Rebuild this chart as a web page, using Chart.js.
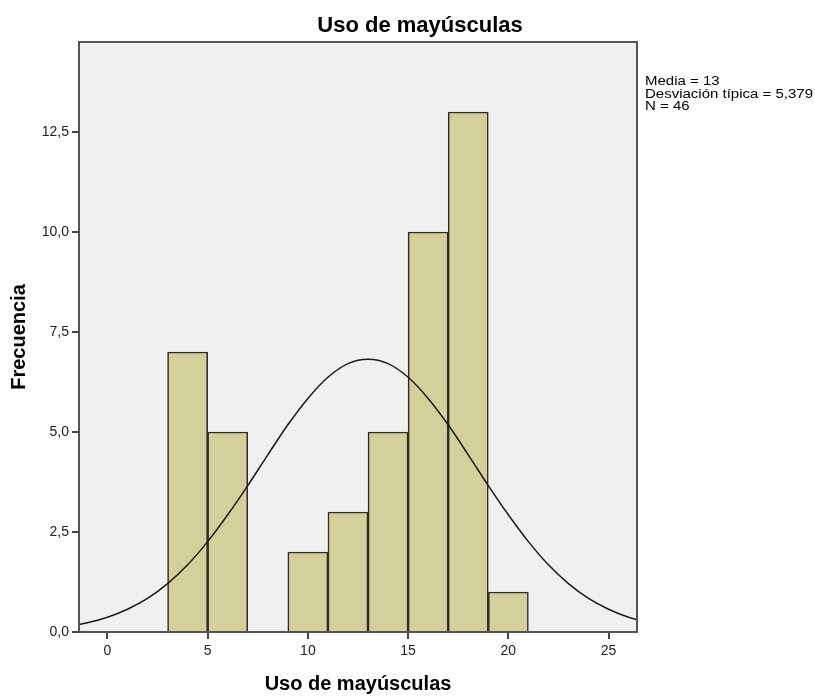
<!DOCTYPE html>
<html>
<head>
<meta charset="utf-8">
<script src="https://cdn.jsdelivr.net/npm/chart.js@4.4.1/dist/chart.umd.min.js"></script>
<style>
  html, body { margin: 0; padding: 0; background: #fff; }
  #wrap { width: 815px; height: 697px; }
</style>
</head>
<body>
<div id="wrap"><canvas id="histChart" width="815" height="697"></canvas></div>
<script>
// ---- datos del histograma (intervalos de ancho 2) ----
const binCenters = [4, 6, 10, 12, 14, 16, 18, 20];
const binCounts  = [7, 5, 2, 3, 5, 10, 13, 1];

// ---- curva normal ----
const curveX = [-2, -1, 0, 1, 2, 3, 4, 5, 6, 7, 8, 9, 10, 11, 12, 13, 14, 15, 16, 17, 18, 19, 20, 21, 22, 23, 24, 25, 26, 27, 28];
const curveY = [0.14, 0.23, 0.37, 0.57, 0.84, 1.21, 1.68, 2.26, 2.93, 3.66, 4.43, 5.18, 5.84, 6.37, 6.71, 6.82, 6.71, 6.37, 5.84, 5.18, 4.43, 3.66, 2.93, 2.26, 1.68, 1.21, 0.84, 0.57, 0.37, 0.23, 0.14];

// ---- ejes ----
const xTicks = [0, 5, 10, 15, 20, 25];
const yTicks = [0, 2.5, 5, 7.5, 10, 12.5];
const xMin = -1.42, xMax = 26.42;
const yMin = 0, yMax = 14.75;

const chartTitle = "Uso de mayúsculas";
const xTitle = "Uso de mayúsculas";
const yTitle = "Frecuencia";
const statsLines = ["Media = 13", "Desviación típica = 5,379", "N = 46"];

const FONT = "'Liberation Sans', Arial, sans-serif";

// fondo gris y marco del área de gráfico + título y estadísticos
const framePlugin = {
  id: "frame",
  beforeDatasetsDraw(chart) {
    const { ctx, chartArea: a } = chart;
    ctx.save();
    ctx.fillStyle = "#f0f0f0";
    ctx.fillRect(a.left, a.top, a.right - a.left, a.bottom - a.top);
    ctx.restore();
  },
  afterDraw(chart) {
    const { ctx, chartArea: a } = chart;
    ctx.save();
    ctx.strokeStyle = "#555";
    ctx.lineWidth = 2;
    ctx.strokeRect(a.left, a.top, a.right - a.left, a.bottom - a.top);

    ctx.fillStyle = "#000";
    ctx.font = "bold 22px " + FONT;
    ctx.textAlign = "center";
    ctx.textBaseline = "alphabetic";
    ctx.fillText(chartTitle, 420, 32);

    // texto de estadísticos, algo ensanchado como en SPSS
    ctx.font = "12px " + FONT;
    ctx.textAlign = "left";
    ctx.translate(a.right + 8, 0);
    ctx.scale(1.25, 1);
    statsLines.forEach((t, i) => ctx.fillText(t, 0, 85 + i * 12.6));
    ctx.restore();
  }
};

new Chart(document.getElementById("histChart"), {
  type: "bar",
  data: {
    datasets: [
      {
        type: "bar",
        data: binCenters.map((x, i) => ({ x, y: binCounts[i] })),
        backgroundColor: "#d4d09a",
        borderColor: "#2e2e2e",
        borderWidth: 1.6,
        barPercentage: 1,
        categoryPercentage: 1,
        order: 2
      },
      {
        type: "line",
        data: curveX.map((x, i) => ({ x, y: curveY[i] })),
        borderColor: "#1a1a1a",
        borderWidth: 1.5,
        pointRadius: 0,
        fill: false,
        cubicInterpolationMode: "monotone",
        order: 1
      }
    ]
  },
  options: {
    responsive: false,
    animation: false,
    layout: { padding: { left: 0, top: 42, right: 178, bottom: 0 } },
    plugins: { legend: { display: false }, tooltip: { enabled: false }, title: { display: false } },
    scales: {
      x: {
        type: "linear",
        min: xMin,
        max: xMax,
        offset: false,
        afterBuildTicks: s => { s.ticks = xTicks.map(v => ({ value: v })); },
        afterFit: s => { s.height = 65; },
        grid: { display: true, drawOnChartArea: false, drawTicks: true, tickLength: 7, color: "#444", lineWidth: 2, offset: false },
        border: { display: true, color: "#555", width: 2 },
        ticks: { color: "#222", font: { family: FONT, size: 14 }, padding: 4, maxRotation: 0 },
        title: { display: true, text: xTitle, color: "#000", font: { family: FONT, size: 20, weight: "bold" }, padding: { top: 0, bottom: 1 } }
      },
      y: {
        type: "linear",
        min: yMin,
        max: yMax,
        afterBuildTicks: s => { s.ticks = yTicks.map(v => ({ value: v })); },
        afterFit: s => { s.width = 79; },
        grid: { display: true, drawOnChartArea: false, drawTicks: true, tickLength: 7, color: "#444", lineWidth: 2 },
        border: { display: true, color: "#555", width: 2 },
        ticks: {
          color: "#222",
          font: { family: FONT, size: 14 },
          padding: 3,
          callback: v => v.toFixed(1).replace(".", ",")
        },
        title: { display: true, text: yTitle, color: "#000", font: { family: FONT, size: 20, weight: "bold" }, padding: { top: 7, bottom: 0 } }
      }
    }
  },
  plugins: [framePlugin]
});
</script>
</body>
</html>
